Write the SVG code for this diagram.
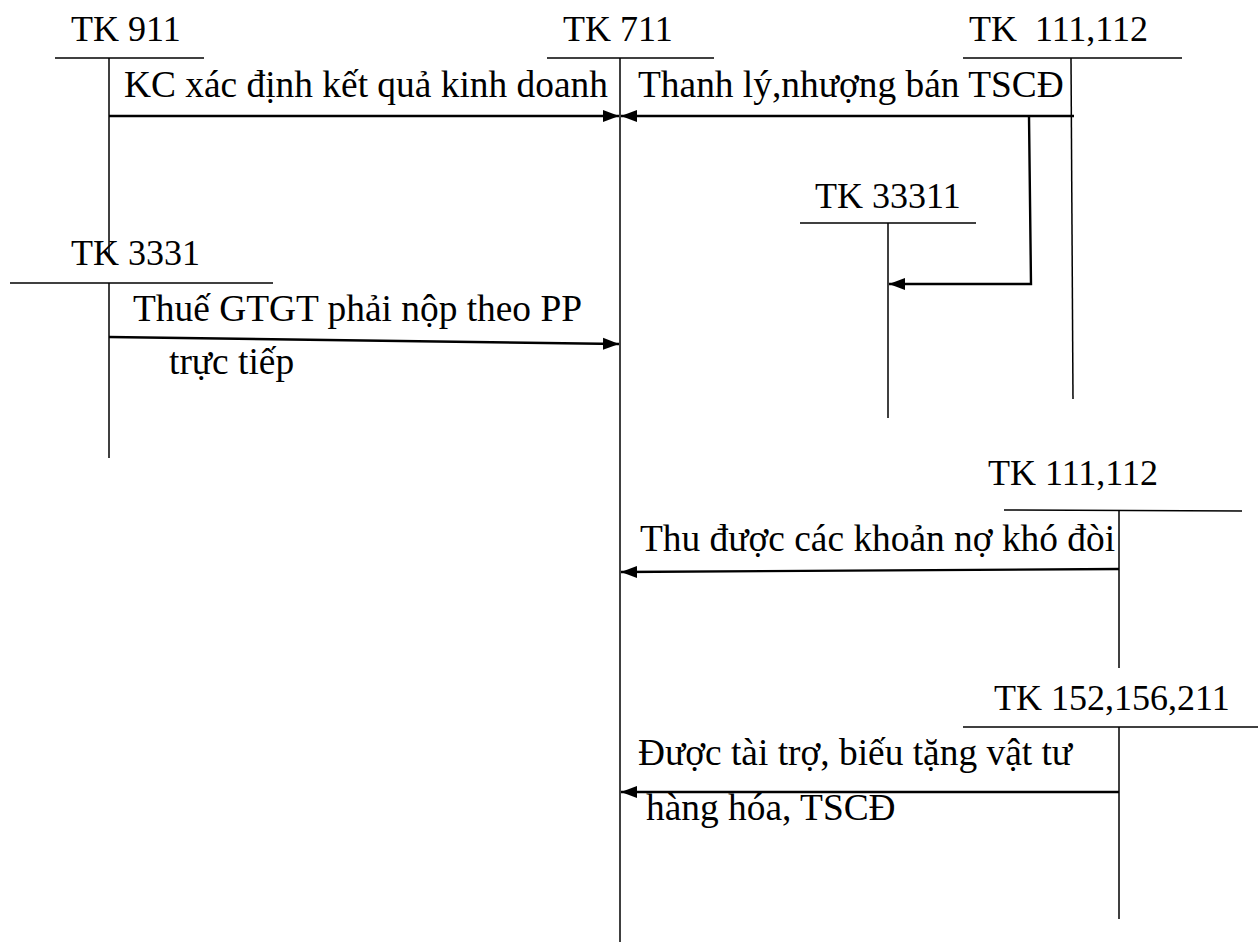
<svg xmlns="http://www.w3.org/2000/svg" width="1258" height="943" viewBox="0 0 1258 943">
<style>
  text { font-family: "Liberation Serif", "Times New Roman", serif; font-size: 36px; fill: #000; }
  .lbl { font-size: 37.4px; }
  .acc { stroke: #000; stroke-width: 1.5; fill: none; }
  .flow { stroke: #000; stroke-width: 2.4; fill: none; marker-end: url(#ah); }
</style>
<defs>
  <marker id="ah" viewBox="0 0 16 12" refX="16" refY="6" markerWidth="16" markerHeight="13" markerUnits="userSpaceOnUse" orient="auto">
    <path d="M0,0 L16,6 L0,12 Z" fill="#000"/>
  </marker>
</defs>
<rect width="1258" height="943" fill="#fff"/>

<g id="tk911">
  <text x="71" y="41">TK 911</text>
  <line class="acc" x1="55" y1="58" x2="204" y2="58"/>
  <line class="acc" x1="109" y1="58" x2="109" y2="258"/>
</g>
<g id="tk711">
  <text x="563" y="41">TK 711</text>
  <line class="acc" x1="547" y1="58" x2="714" y2="58"/>
  <line class="acc" x1="620" y1="58" x2="620" y2="942"/>
</g>
<g id="tk111a">
  <text x="969" y="41" xml:space="preserve">TK  111,112</text>
  <line class="acc" x1="963" y1="58" x2="1182" y2="58"/>
  <line class="acc" x1="1071" y1="58" x2="1073" y2="399"/>
</g>
<g id="tk33311">
  <text x="815" y="208">TK 33311</text>
  <line class="acc" x1="800" y1="223" x2="976" y2="223"/>
  <line class="acc" x1="888" y1="223" x2="888" y2="418"/>
</g>
<g id="tk3331">
  <text x="71" y="265">TK 3331</text>
  <line class="acc" x1="10" y1="283" x2="273" y2="283"/>
  <line class="acc" x1="109" y1="283" x2="109" y2="458"/>
</g>
<g id="tk111b">
  <text x="988" y="485">TK 111,112</text>
  <line class="acc" x1="1004" y1="510" x2="1242" y2="511"/>
  <line class="acc" x1="1119" y1="510" x2="1119" y2="668"/>
</g>
<g id="tk152">
  <text x="994" y="710">TK 152,156,211</text>
  <line class="acc" x1="963" y1="727" x2="1258" y2="727"/>
  <line class="acc" x1="1119" y1="727" x2="1119" y2="919"/>
</g>

<g id="connectors">
  <line class="flow" x1="109" y1="116" x2="619" y2="116"/>
  <line class="flow" x1="1074" y1="116" x2="621" y2="116"/>
  <polyline class="flow" points="1029,116 1031,284 889,284"/>
  <line class="flow" x1="109" y1="337" x2="619" y2="344"/>
  <line class="flow" x1="1119" y1="569" x2="621" y2="572"/>
  <line class="flow" x1="1119" y1="792" x2="621" y2="792"/>
</g>

<g id="labels">
  <text class="lbl" x="124" y="97">KC xác định kết quả kinh doanh</text>
  <text class="lbl" x="638" y="97">Thanh lý,nhượng bán TSCĐ</text>
  <text class="lbl" x="133" y="321">Thuế GTGT phải nộp theo PP</text>
  <text class="lbl" x="169" y="374">trực tiếp</text>
  <text class="lbl" x="640" y="551">Thu được các khoản nợ khó đòi</text>
  <text class="lbl" x="638" y="765">Được tài trợ, biếu tặng vật tư</text>
  <text class="lbl" x="646" y="820">hàng hóa, TSCĐ</text>
</g>
</svg>
